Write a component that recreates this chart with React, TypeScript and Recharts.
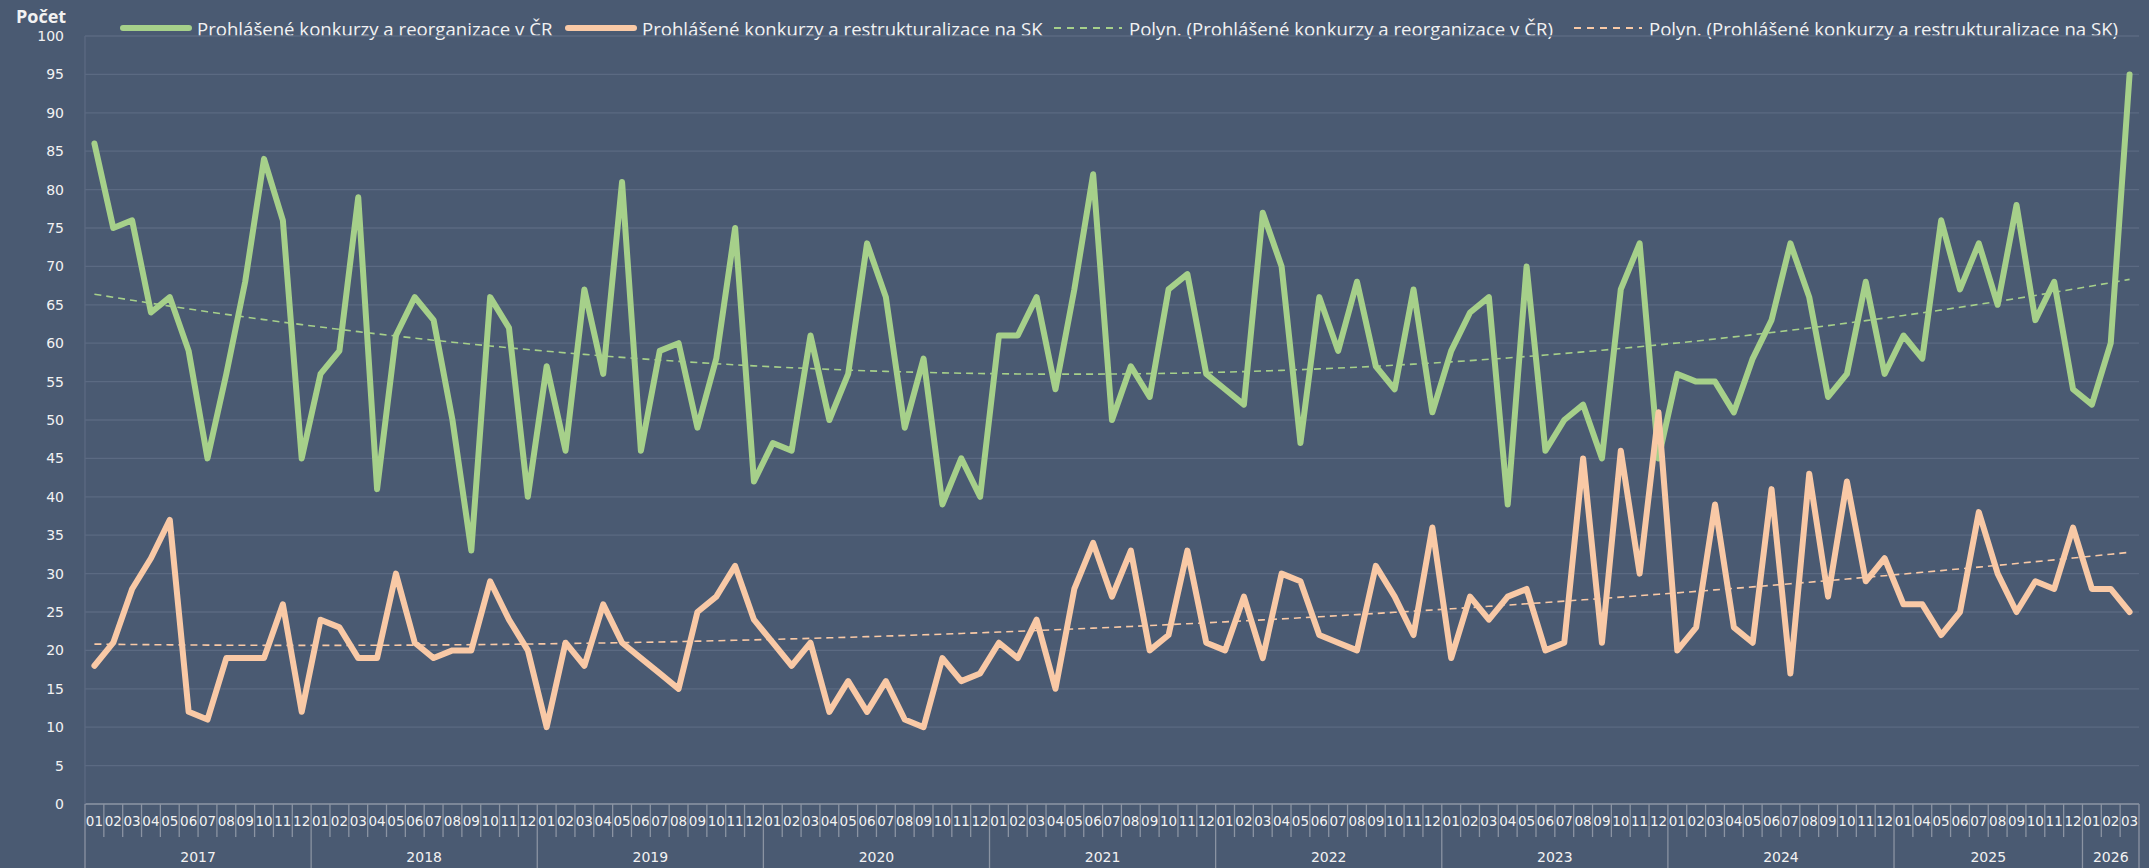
import React from 'react';
import { ComposedChart, Line, XAxis, YAxis, CartesianGrid } from 'recharts';

const W = 2149;
const H = 868;
const PLOT_LEFT = 85;
const PLOT_RIGHT = 2139;
const PLOT_TOP = 36;
const PLOT_BOTTOM = 804;

const BG = '#4a5a72';
const GRID = '#5b6a82';
const AXIS = '#8a93a2';
const GREEN = '#a6d08a';
const PEACH = '#f9c9a6';
const TEXT = '#f2f2f2';

// 2025-02 and 2025-03 are missing in the source
const periods = [
  '2017-01', '2017-02', '2017-03', '2017-04', '2017-05', '2017-06', '2017-07', '2017-08', '2017-09', '2017-10', '2017-11', '2017-12',
  '2018-01', '2018-02', '2018-03', '2018-04', '2018-05', '2018-06', '2018-07', '2018-08', '2018-09', '2018-10', '2018-11', '2018-12',
  '2019-01', '2019-02', '2019-03', '2019-04', '2019-05', '2019-06', '2019-07', '2019-08', '2019-09', '2019-10', '2019-11', '2019-12',
  '2020-01', '2020-02', '2020-03', '2020-04', '2020-05', '2020-06', '2020-07', '2020-08', '2020-09', '2020-10', '2020-11', '2020-12',
  '2021-01', '2021-02', '2021-03', '2021-04', '2021-05', '2021-06', '2021-07', '2021-08', '2021-09', '2021-10', '2021-11', '2021-12',
  '2022-01', '2022-02', '2022-03', '2022-04', '2022-05', '2022-06', '2022-07', '2022-08', '2022-09', '2022-10', '2022-11', '2022-12',
  '2023-01', '2023-02', '2023-03', '2023-04', '2023-05', '2023-06', '2023-07', '2023-08', '2023-09', '2023-10', '2023-11', '2023-12',
  '2024-01', '2024-02', '2024-03', '2024-04', '2024-05', '2024-06', '2024-07', '2024-08', '2024-09', '2024-10', '2024-11', '2024-12',
  '2025-01', '2025-04', '2025-05', '2025-06', '2025-07', '2025-08', '2025-09', '2025-10', '2025-11', '2025-12',
  '2026-01', '2026-02', '2026-03',
];

const czValues = [
  86, 75, 76, 64, 66, 59, 45, 56, 68, 84, 76, 45,
  56, 59, 79, 41, 61, 66, 63, 50, 33, 66, 62, 40,
  57, 46, 67, 56, 81, 46, 59, 60, 49, 58, 75, 42,
  47, 46, 61, 50, 56, 73, 66, 49, 58, 39, 45, 40,
  61, 61, 66, 54, 67, 82, 50, 57, 53, 67, 69, 56,
  54, 52, 77, 70, 47, 66, 59, 68, 57, 54, 67, 51,
  59, 64, 66, 39, 70, 46, 50, 52, 45, 67, 73, 45,
  56, 55, 55, 51, 58, 63, 73, 66, 53, 56, 68, 56,
  61, 58, 76, 67, 73, 65, 78, 63, 68, 54,
  52, 60, 95,
];

const skValues = [
  18, 21, 28, 32, 37, 12, 11, 19, 19, 19, 26, 12,
  24, 23, 19, 19, 30, 21, 19, 20, 20, 29, 24, 20,
  10, 21, 18, 26, 21, 19, 17, 15, 25, 27, 31, 24,
  21, 18, 21, 12, 16, 12, 16, 11, 10, 19, 16, 17,
  21, 19, 24, 15, 28, 34, 27, 33, 20, 22, 33, 21,
  20, 27, 19, 30, 29, 22, 21, 20, 31, 27, 22, 36,
  19, 27, 24, 27, 28, 20, 21, 45, 21, 46, 30, 51,
  20, 23, 39, 23, 21, 41, 17, 43, 27, 42, 29, 32,
  26, 26, 22, 25, 38, 30, 25, 29, 28, 36,
  28, 28, 25,
];

const yTicks = [0, 5, 10, 15, 20, 25, 30, 35, 40, 45, 50, 55, 60, 65, 70, 75, 80, 85, 90, 95, 100];

const LABEL_CZ = 'Prohlášené konkurzy a reorganizace v ČR';
const LABEL_SK = 'Prohlášené konkurzy a restrukturalizace na SK';

// Excel "Polyn." trendline, order 2, fitted over category index 1..n
function polyTrend(ys: number[]): number[] {
  const s = [0, 0, 0, 0, 0];
  const t = [0, 0, 0];
  ys.forEach((y, i) => {
    const x = i + 1;
    for (let k = 0; k < 5; k++) s[k] += Math.pow(x, k);
    for (let k = 0; k < 3; k++) t[k] += y * Math.pow(x, k);
  });
  const m = [
    [s[0], s[1], s[2], t[0]],
    [s[1], s[2], s[3], t[1]],
    [s[2], s[3], s[4], t[2]],
  ];
  for (let c = 0; c < 3; c++) {
    for (let r = c + 1; r < 3; r++) {
      const f = m[r][c] / m[c][c];
      for (let k = c; k < 4; k++) m[r][k] -= f * m[c][k];
    }
  }
  const b = [0, 0, 0];
  for (let r = 2; r >= 0; r--) {
    let v = m[r][3];
    for (let k = r + 1; k < 3; k++) v -= m[r][k] * b[k];
    b[r] = v / m[r][r];
  }
  return ys.map((_, i) => b[0] + b[1] * (i + 1) + b[2] * (i + 1) * (i + 1));
}

const czTrend = polyTrend(czValues);
const skTrend = polyTrend(skValues);

const data = periods.map((p, i) => ({
  period: p,
  cz: czValues[i],
  sk: skValues[i],
  czTrend: czTrend[i],
  skTrend: skTrend[i],
}));

const BAND = (PLOT_RIGHT - PLOT_LEFT) / periods.length;

const yearCount = (yr: string) => periods.filter(p => p.startsWith(yr)).length;

const MonthTick = (props: any) => {
  const { x, payload } = props;
  const i = periods.indexOf(payload.value);
  const [yr, mo] = String(payload.value).split('-');
  const left = x - BAND / 2;
  const yearStart = i === 0 || periods[i - 1].slice(0, 4) !== yr;
  const last = i === periods.length - 1;
  return (
    <g>
      <line x1={left} x2={left} y1={PLOT_BOTTOM} y2={yearStart ? H : PLOT_BOTTOM + 33} stroke={AXIS} strokeWidth={1.3} />
      {last && <line x1={left + BAND} x2={left + BAND} y1={PLOT_BOTTOM} y2={H} stroke={AXIS} strokeWidth={1.3} />}
      <text x={x} y={PLOT_BOTTOM + 22} textAnchor="middle" fill={TEXT} fontSize={13.5} fontFamily="DejaVu Sans">
        {mo}
      </text>
      {yearStart && (
        <text x={left + (yearCount(yr) * BAND) / 2} y={PLOT_BOTTOM + 58} textAnchor="middle" fill={TEXT} fontSize={14} fontFamily="DejaVu Sans">
          {yr}
        </text>
      )}
    </g>
  );
};

const Swatch = ({ color, dashed }: { color: string; dashed?: boolean }) => (
  <svg width={72} height={10} style={{ display: 'block' }}>
    <line
      x1={dashed ? 2 : 3}
      x2={dashed ? 70 : 69}
      y1={5}
      y2={5}
      stroke={color}
      strokeWidth={dashed ? 2 : 6}
      strokeLinecap={dashed ? 'butt' : 'round'}
      strokeDasharray={dashed ? '7 6' : undefined}
    />
  </svg>
);

const legendItems = [
  { left: 120, color: GREEN, dashed: false, label: LABEL_CZ },
  { left: 565, color: PEACH, dashed: false, label: LABEL_SK },
  { left: 1052, color: GREEN, dashed: true, label: `Polyn. (${LABEL_CZ})` },
  { left: 1572, color: PEACH, dashed: true, label: `Polyn. (${LABEL_SK})` },
];

export default function App() {
  return (
    <div style={{ position: 'relative', width: W, height: H, background: BG, overflow: 'hidden' }}>
      <style>{'body{margin:0;}'}</style>
      <div
        style={{
          position: 'absolute', left: 16, top: 4, color: TEXT, fontWeight: 700,
          fontSize: 18, fontFamily: '"Open Sans", sans-serif',
        }}
      >
        Počet
      </div>
      {legendItems.map(it => (
        <div
          key={it.label}
          style={{ position: 'absolute', left: it.left, top: 16, height: 24, display: 'flex', alignItems: 'center' }}
        >
          <Swatch color={it.color} dashed={it.dashed} />
          <span
            style={{
              marginLeft: 5, color: TEXT, fontSize: 18.6, whiteSpace: 'nowrap',
              fontFamily: '"Open Sans", sans-serif',
            }}
          >
            {it.label}
          </span>
        </div>
      ))}
      <ComposedChart
        width={W}
        height={H}
        data={data}
        margin={{ top: PLOT_TOP, right: W - PLOT_RIGHT, left: 0, bottom: 0 }}
        style={{ position: 'absolute', left: 0, top: 0 }}
      >
        <CartesianGrid vertical={false} stroke={GRID} strokeWidth={1.3} />
        <XAxis
          dataKey="period"
          interval={0}
          height={H - PLOT_BOTTOM}
          padding={{ left: BAND / 2, right: BAND / 2 }}
          tickLine={false}
          axisLine={{ stroke: AXIS, strokeWidth: 1.3 }}
          tick={<MonthTick />}
        />
        <YAxis
          domain={[0, 100]}
          ticks={yTicks}
          width={PLOT_LEFT}
          tickSize={0}
          tickMargin={21}
          axisLine={{ stroke: GRID, strokeWidth: 1.3 }}
          tick={{ fill: TEXT, fontSize: 14, fontFamily: 'DejaVu Sans' }}
        />
        <Line dataKey="czTrend" stroke={GREEN} strokeWidth={1.6} strokeDasharray="7 5" dot={false} isAnimationActive={false} />
        <Line dataKey="skTrend" stroke={PEACH} strokeWidth={1.6} strokeDasharray="7 5" dot={false} isAnimationActive={false} />
        <Line dataKey="cz" stroke={GREEN} strokeWidth={6} strokeLinejoin="round" strokeLinecap="round" dot={false} isAnimationActive={false} />
        <Line dataKey="sk" stroke={PEACH} strokeWidth={6} strokeLinejoin="round" strokeLinecap="round" dot={false} isAnimationActive={false} />
      </ComposedChart>
    </div>
  );
}
